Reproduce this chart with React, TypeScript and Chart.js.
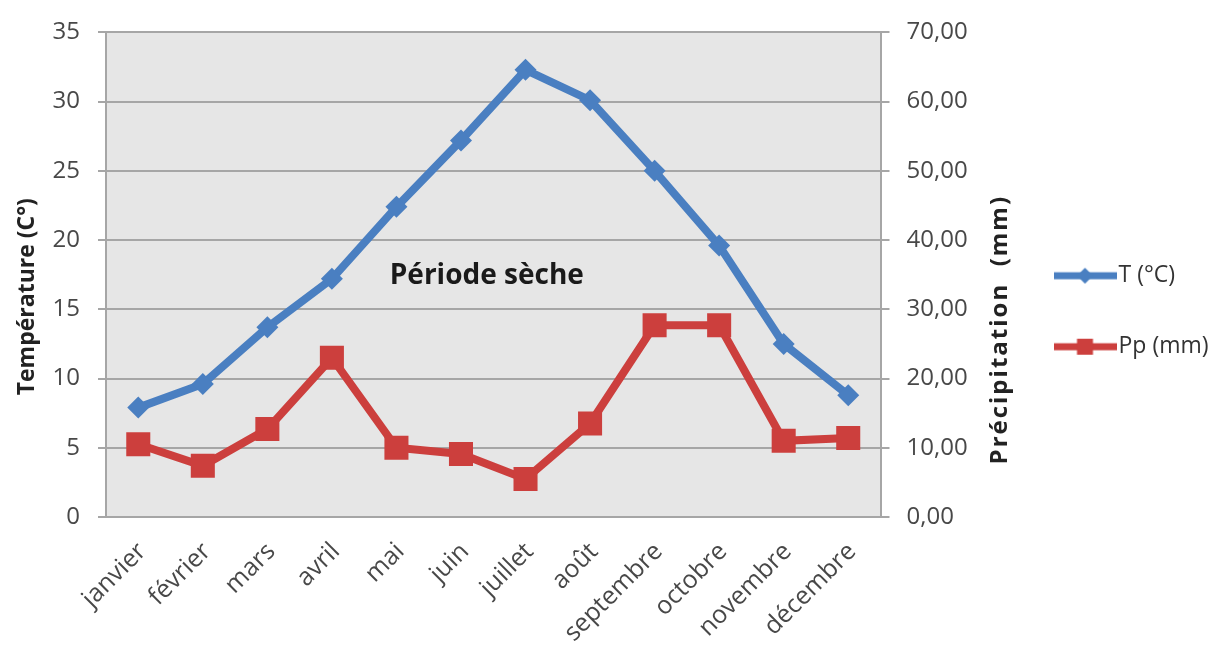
import { useEffect, useRef } from 'react';
import { Chart, registerables } from 'chart.js';

Chart.register(...registerables);

const MONTHS = ['janvier', 'février', 'mars', 'avril', 'mai', 'juin', 'juillet', 'août', 'septembre', 'octobre', 'novembre', 'décembre'];
const TEMPERATURE = [7.9, 9.6, 13.7, 17.2, 22.4, 27.2, 32.3, 30.1, 25.0, 19.6, 12.5, 8.8];
const PRECIPITATION = [10.5, 7.4, 12.7, 23.0, 10.0, 9.1, 5.5, 13.5, 27.7, 27.7, 11.0, 11.4];
const SERIES_LABELS = ['T (°C)', 'Pp (mm)'];
const AXIS_TITLES = ['Température (C°)', 'Précipitation  (mm)'];
const ANNOTATION_TEXT = 'Période sèche';
const ANNOTATION_AT = { month: 5.4, temp: 17.4 };

const BLUE = '#4a7fc1';
const RED = '#cc3f3d';
const GRID = '#a6a6a6';
const TICK_COLOR = '#484848';
const FONT = "'Open Sans', 'DejaVu Sans', sans-serif";

function legendIcon(color: string, diamond: boolean): HTMLCanvasElement {
  const c = document.createElement('canvas');
  c.width = 63;
  c.height = 30;
  const g = c.getContext('2d')!;
  g.strokeStyle = color;
  g.lineWidth = 7;
  g.beginPath();
  g.moveTo(0, 15);
  g.lineTo(63, 15);
  g.stroke();
  g.fillStyle = color;
  g.beginPath();
  if (diamond) {
    g.moveTo(31.5, 7);
    g.lineTo(39.5, 15);
    g.lineTo(31.5, 23);
    g.lineTo(23.5, 15);
    g.closePath();
  } else {
    g.rect(23.5, 7, 16, 16);
  }
  g.fill();
  return c;
}

const decorPlugin = {
  id: 'decor',
  beforeDraw(chart: any) {
    const { ctx, chartArea } = chart;
    ctx.save();
    ctx.fillStyle = '#e6e6e6';
    ctx.fillRect(chartArea.left, chartArea.top, chartArea.right - chartArea.left, chartArea.bottom - chartArea.top);
    ctx.restore();
  },
  afterDraw(chart: any) {
    const { ctx, chartArea, scales } = chart;
    const mid = (chartArea.top + chartArea.bottom) / 2;
    ctx.save();
    ctx.fillStyle = '#222222';
    ctx.textAlign = 'center';
    ctx.textBaseline = 'middle';
    // left axis title
    ctx.font = `bold 23px ${FONT}`;
    ctx.save();
    ctx.translate(chartArea.left - 79, mid + 22);
    ctx.rotate(-Math.PI / 2);
    ctx.fillText(AXIS_TITLES[0], 0, 0);
    ctx.restore();
    // right axis title (reads bottom to top)
    ctx.font = `bold 24px ${FONT}`;
    ctx.save();
    ctx.translate(chartArea.right + 120, mid + 55);
    ctx.rotate(-Math.PI / 2);
    (ctx as any).letterSpacing = '2px';
    ctx.fillText(AXIS_TITLES[1], 0, 0);
    ctx.restore();
    // annotation
    ctx.font = `bold 28px ${FONT}`;
    ctx.fillStyle = '#1a1a1a';
    const ax = scales.x.getPixelForValue(ANNOTATION_AT.month);
    const ay = scales.y.getPixelForValue(ANNOTATION_AT.temp);
    ctx.fillText(ANNOTATION_TEXT, ax, ay);
    ctx.restore();
  },
};

export default function App() {
  const ref = useRef<HTMLCanvasElement>(null);
  useEffect(() => {
    const icons = [legendIcon(BLUE, true), legendIcon(RED, false)];
    const chart = new Chart(ref.current!, {
      type: 'line',
      data: {
        labels: MONTHS,
        datasets: [
          {
            label: SERIES_LABELS[0],
            data: TEMPERATURE,
            yAxisID: 'y',
            borderColor: BLUE,
            backgroundColor: BLUE,
            borderWidth: 8,
            pointStyle: 'rectRot',
            pointRadius: 11,
            pointHoverRadius: 11,
            pointBorderWidth: 0,
            tension: 0,
          },
          {
            label: SERIES_LABELS[1],
            data: PRECIPITATION,
            yAxisID: 'y1',
            borderColor: RED,
            backgroundColor: RED,
            borderWidth: 8,
            pointStyle: 'rect',
            pointRadius: 17,
            pointHoverRadius: 17,
            pointBorderWidth: 0,
            tension: 0,
          },
        ],
      },
      options: {
        animation: false,
        responsive: true,
        maintainAspectRatio: false,
        layout: { padding: { top: 25, left: 0, right: 8, bottom: 0 } },
        plugins: {
          tooltip: { enabled: false },
          legend: {
            position: 'right',
            fullSize: false,
            align: 'center',
            title: { display: true, text: ' ', font: { size: 13, lineHeight: 1 }, padding: { top: 30, bottom: 30 } },
            labels: {
              usePointStyle: true,
              pointStyleWidth: 44,
              padding: 48,
              color: '#333333',
              font: { family: FONT, size: 23 },
              generateLabels: (c: any) =>
                c.data.datasets.map((ds: any, i: number) => ({
                  text: ds.label,
                  pointStyle: icons[i],
                  fillStyle: ds.borderColor,
                  strokeStyle: ds.borderColor,
                  lineWidth: 0,
                  hidden: false,
                  datasetIndex: i,
                  fontColor: '#333333',
                })),
            },
          },
        },
        scales: {
          x: {
            offset: true,
            grid: { display: true, drawOnChartArea: false, drawTicks: false },
            border: { display: true, color: GRID, width: 2 },
            ticks: {
              autoSkip: false,
              maxRotation: 45,
              minRotation: 45,
              padding: 20,
              labelOffset: 4,
              color: TICK_COLOR,
              font: { family: FONT, size: 25 },
            },
            afterFit: (s: any) => { s.height = 133; },
          },
          y: {
            position: 'left',
            min: 0,
            max: 35,
            ticks: { stepSize: 5, padding: 18, color: TICK_COLOR, font: { family: FONT, size: 24 } },
            grid: { color: GRID, lineWidth: 2, tickLength: 8 },
            border: { display: true, color: GRID, width: 2 },
            afterFit: (s: any) => { s.width = 106; },
          },
          y1: {
            position: 'right',
            min: 0,
            max: 70,
            ticks: {
              stepSize: 10,
              padding: 17,
              color: TICK_COLOR,
              font: { family: FONT, size: 24 },
              callback: (v: any) => Number(v).toFixed(2).replace('.', ','),
            },
            grid: { drawOnChartArea: false, color: GRID, lineWidth: 2, tickLength: 9 },
            border: { display: true, color: GRID, width: 2 },
            afterFit: (s: any) => { s.width = 134.5; },
          },
        },
      },
      plugins: [decorPlugin],
    } as any);
    return () => chart.destroy();
  }, []);
  return (
    <div style={{ position: 'absolute', left: 0, top: 0, width: 1226, height: 650, background: '#fff' }}>
      <canvas ref={ref} />
    </div>
  );
}
